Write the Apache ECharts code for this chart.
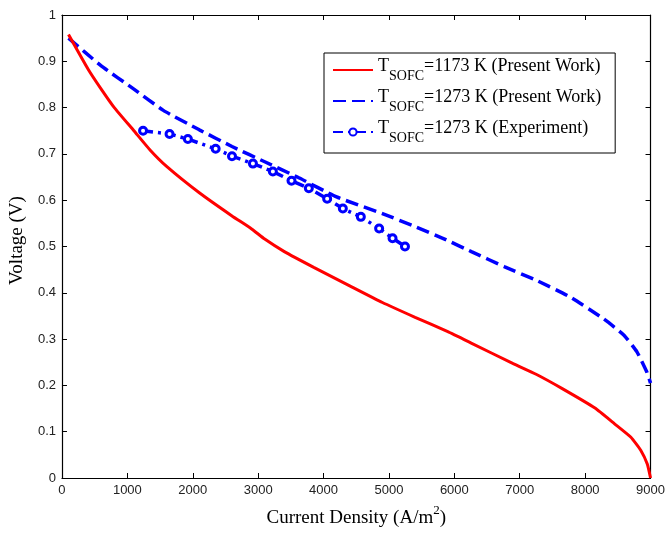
<!DOCTYPE html>
<html>
<head>
<meta charset="utf-8">
<script src="https://cdn.jsdelivr.net/npm/echarts@6/dist/echarts.min.js"></script>
<style>html,body{margin:0;padding:0;background:#fff;}#c{width:668px;height:533px;}</style>
</head>
<body>
<div id="c"></div>
<script>
// Red solid: T_SOFC = 1173 K (Present Work)
const redX = [100, 400, 600, 800, 1100, 1350, 1600, 2100, 2600, 2900, 3100, 3400, 3850, 4400, 4900, 5400, 5900, 6250, 6900, 7250, 7650, 8150, 8450, 8700, 8850, 8950, 9000];
const redY = [0.958, 0.883, 0.840, 0.800, 0.750, 0.708, 0.673, 0.616, 0.566, 0.538, 0.516, 0.489, 0.455, 0.415, 0.379, 0.347, 0.316, 0.292, 0.247, 0.224, 0.193, 0.151, 0.117, 0.088, 0.060, 0.030, 0.0];
// Blue dashed: T_SOFC = 1273 K (Present Work)
const blueX = [100, 600, 1100, 1550, 2100, 2600, 3100, 3600, 4200, 4900, 5400, 5850, 6260, 6770, 7270, 7780, 8280, 8590, 8790, 8940, 9000];
const blueY = [0.950, 0.890, 0.840, 0.794, 0.752, 0.716, 0.683, 0.650, 0.607, 0.571, 0.543, 0.516, 0.489, 0.456, 0.426, 0.390, 0.344, 0.309, 0.273, 0.230, 0.205];
// Blue markers: T_SOFC = 1273 K (Experiment)
const expX = [1240, 1645, 1925, 2350, 2600, 2920, 3225, 3510, 3775, 4055, 4295, 4570, 4850, 5055, 5245];
const expY = [0.750, 0.743, 0.732, 0.711, 0.695, 0.679, 0.662, 0.642, 0.626, 0.603, 0.582, 0.564, 0.539, 0.518, 0.500];

const seriesNames = ['TSOFC=1173 K (Present Work)', 'TSOFC=1273 K (Present Work)', 'TSOFC=1273 K (Experiment)'];
const xTickValues = [0, 1000, 2000, 3000, 4000, 5000, 6000, 7000, 8000, 9000];
const yTickValues = [0, 0.1, 0.2, 0.3, 0.4, 0.5, 0.6, 0.7, 0.8, 0.9, 1];
const xTitle = 'Current Density (A/m';
const yTitle = 'Voltage (V)';

const pairs = (xs, ys) => xs.map((x, i) => [x, ys[i]]);

const chart = echarts.init(document.getElementById('c'), null, {renderer: 'canvas'});
const serif = 'Liberation Serif';
const sans = 'Liberation Sans';
const axisCommon = {
  axisLine: {show: true, onZero: false, lineStyle: {color: '#000', width: 1.2}},
  axisTick: {show: true, inside: true, length: 5, lineStyle: {color: '#000', width: 1}},
  splitLine: {show: false}
};
chart.setOption({
  animation: false,
  backgroundColor: '#fff',
  grid: {left: 60, right: 14, top: 15, bottom: 48, containLabel: false},
  legend: {
    orient: 'vertical',
    left: 324, top: 53,
    padding: [4, 14, 8, 8],
    itemGap: 5,
    itemWidth: 40, itemHeight: 9,
    borderColor: '#000', borderWidth: 1,
    backgroundColor: '#fff',
    selectedMode: false,
    data: [
      {name: seriesNames[0], itemStyle: {opacity: 0}},
      {name: seriesNames[1], itemStyle: {opacity: 0}},
      {name: seriesNames[2]}
    ],
    formatter: function (name) {
      return '{t|T}{s|SOFC}{n|' + name.slice(5) + '}{z|\u200b}';
    },
    textStyle: {
      fontFamily: serif, color: '#000',
      rich: {
        t: {fontFamily: serif, fontSize: 18, lineHeight: 17, verticalAlign: 'top', color: '#000'},
        n: {fontFamily: serif, fontSize: 18, lineHeight: 17, verticalAlign: 'top', color: '#000'},
        s: {fontFamily: serif, fontSize: 14, lineHeight: 16.6, verticalAlign: 'bottom', color: '#000'},
        z: {fontFamily: serif, fontSize: 14, lineHeight: 26, verticalAlign: 'middle', color: '#000'}
      }
    }
  },
  xAxis: [
    Object.assign({}, axisCommon, {
      type: 'value', min: 0, max: 9000, interval: 1000, position: 'bottom',
      axisLabel: {fontFamily: sans, fontSize: 13, color: '#222', margin: 6,
        formatter: v => xTickValues.includes(v) ? String(v) : ''},
      name: '{a|' + xTitle + '}{s|2}{a|)}',
      nameLocation: 'middle', nameGap: 26,
      nameTextStyle: {
        rich: {
          a: {fontFamily: serif, fontSize: 19, color: '#000', lineHeight: 24, verticalAlign: 'bottom'},
          s: {fontFamily: serif, fontSize: 13, color: '#000', lineHeight: 13, verticalAlign: 'top'}
        }
      }
    }),
    Object.assign({}, axisCommon, {
      type: 'value', min: 0, max: 9000, interval: 1000, position: 'top',
      axisLabel: {show: false}
    })
  ],
  yAxis: [
    Object.assign({}, axisCommon, {
      type: 'value', min: 0, max: 1, interval: 0.1, position: 'left',
      axisLabel: {fontFamily: sans, fontSize: 13, color: '#222', margin: 6,
        formatter: v => { const t = yTickValues.find(u => Math.abs(u - v) < 1e-9); return t === undefined ? '' : String(t); }},
      name: yTitle, nameLocation: 'middle', nameGap: 24,
      nameTextStyle: {fontFamily: serif, fontSize: 19, color: '#000', padding: [0, 0, 0, 12]}
    }),
    Object.assign({}, axisCommon, {
      type: 'value', min: 0, max: 1, interval: 0.1, position: 'right',
      axisLabel: {show: false}
    })
  ],
  series: [
    {
      name: seriesNames[0], type: 'line', xAxisIndex: 0, yAxisIndex: 0,
      data: pairs(redX, redY), symbol: 'none', smooth: 0.15,
      lineStyle: {color: '#ff0000', width: 3}, itemStyle: {color: '#ff0000'}, z: 3
    },
    {
      name: seriesNames[1], type: 'line', xAxisIndex: 0, yAxisIndex: 0,
      data: pairs(blueX, blueY), symbol: 'none', smooth: 0.15,
      lineStyle: {color: '#0000ff', width: 3.5, type: [13, 6]}, itemStyle: {color: '#0000ff'}, z: 2
    },
    {
      name: seriesNames[2], type: 'line', xAxisIndex: 0, yAxisIndex: 0,
      data: pairs(expX, expY), symbol: 'circle', symbolSize: 7, showSymbol: true,
      lineStyle: {color: '#0000ff', width: 3.5, type: [10, 5, 3, 5]},
      itemStyle: {color: '#fff', borderColor: '#0000ff', borderWidth: 3}, z: 4
    }
  ]
});
</script>
</body>
</html>
